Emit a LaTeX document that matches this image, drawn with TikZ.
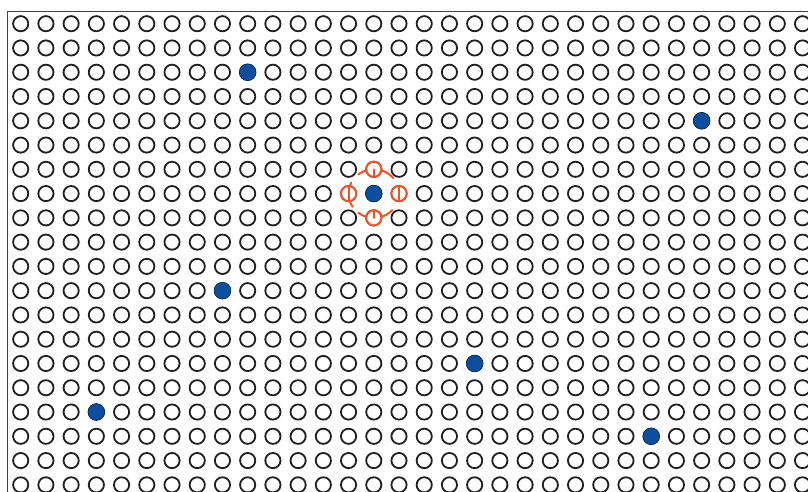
\documentclass[tikz,border=0pt]{standalone}
\begin{document}
\definecolor{dopblue}{HTML}{0D4E9E}
\definecolor{ringorange}{HTML}{EF5428}
\begin{tikzpicture}[x=1pt,y=-1pt,
  framec/.style={draw=black!75, line width=0.9pt},
  site/.style={draw=black!88, line width=1.8pt},
  dopant/.style={fill=dopblue, draw=black!60!dopblue, line width=0.5pt},
  ring/.style={draw=ringorange, line width=2pt, line cap=round},
  nsite/.style={draw=ringorange, fill=white, line width=2pt}]
\useasboundingbox (0,0) rectangle (808,492);
\clip (0,0) rectangle (808,492);
\draw[framec] (7.5,11) rectangle (840,530);
\foreach \i in {0,...,31}{
  \foreach \j in {0,...,19}{
    \draw[site] ({20.7+25.22*\i},{23.7+24.27*\j}) circle[radius=7.6pt];
  }
}
\foreach \i/\j in {9/2,27/4,14/7,8/11,18/14,3/16,25/17}{
  \filldraw[dopant] ({20.7+25.22*\i},{23.7+24.27*\j}) circle[radius=8.4pt];
}
\coordinate (c) at (373.8,193.6);
\coordinate (nt) at (373.8,169.3);
\coordinate (nb) at (373.8,217.9);
\coordinate (nl) at (348.6,193.6);
\coordinate (nr) at (399.0,193.6);
\draw[ring] plot[domain=40:128, samples=40] ({373.8+25.2*cos(\x)},{193.6-24.3*sin(\x)});
\draw[ring] plot[domain=153:213, samples=40] ({373.8+25.2*cos(\x)},{193.6-24.3*sin(\x)});
\draw[ring] plot[domain=232:317, samples=40] ({373.8+25.2*cos(\x)},{193.6-24.3*sin(\x)});
\foreach \n in {nt,nb,nl,nr}{
  \draw[nsite] (\n) circle[radius=7.6pt];
}
\draw[ring] (nt) -- ++(0,7.6);
\draw[ring] (nb) -- ++(0,-7.6);
\draw[ring] ([yshift=-7.6pt]nl) -- ([yshift=7.6pt]nl);
\draw[ring] ([yshift=-7.6pt]nr) -- ([yshift=7.6pt]nr);
\end{tikzpicture}
\end{document}
